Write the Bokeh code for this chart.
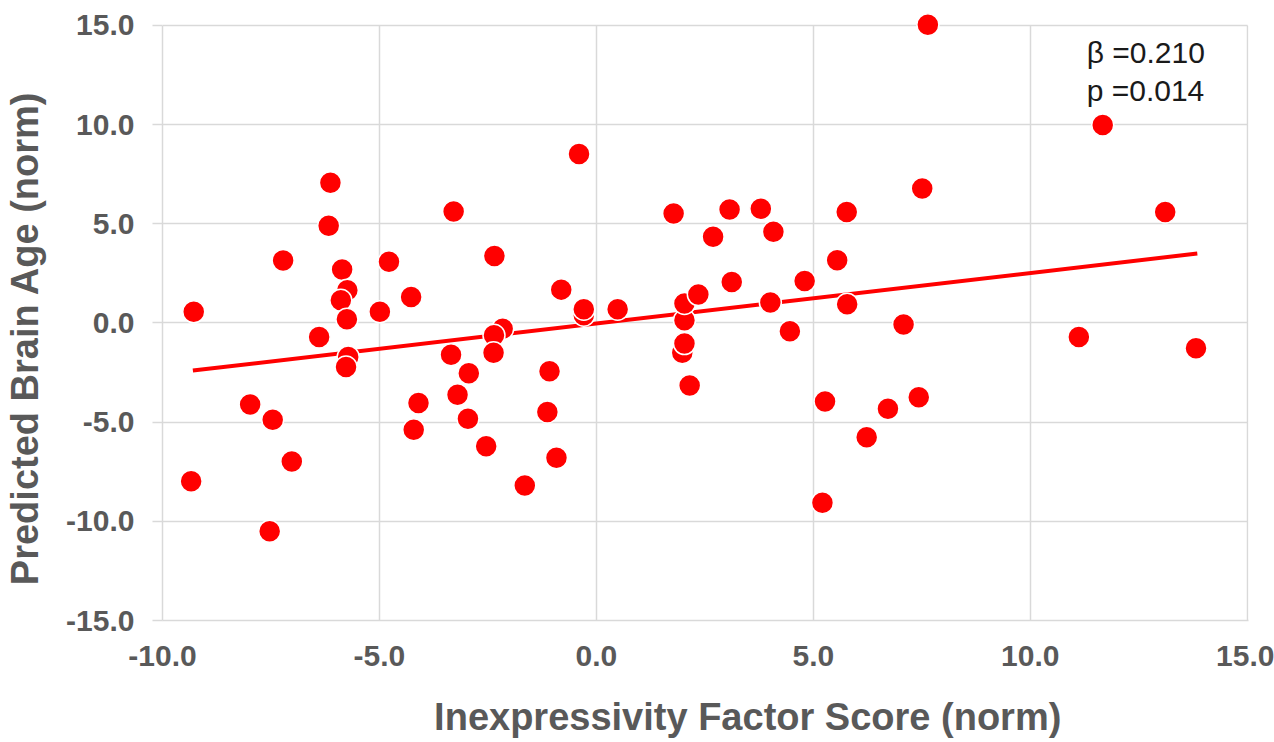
from bokeh.plotting import figure
from bokeh.models import Range1d, Label, FixedTicker, NumeralTickFormatter
from bokeh.embed import file_html
from bokeh.resources import INLINE

# Data
x_score = [-9.28, -9.34, -7.98, -7.46, -7.02, -7.53, -7.22, -6.39, -6.13, -6.17,
           -5.86, -5.74, -5.89, -5.75, -5.72, -5.77, -4.99, -4.78, -4.27, -4.10,
           -4.21, -3.29, -3.35, -3.20, -2.94, -2.96, -2.54, -2.35, -2.16, -2.36,
           -2.37, -1.08, -1.13, -0.92, -1.65, -0.81, -0.40, -0.29, -0.29, 0.49,
           1.78, 1.98, 2.03, 2.03, 2.03, 2.35, 2.15, 2.69, 3.07, 3.12,
           3.79, 4.08, 4.01, 4.46, 4.80, 5.27, 5.21, 5.55, 5.77, 5.78,
           6.23, 6.72, 7.08, 7.43, 7.51, 7.64, 11.12, 11.67, 13.11, 13.82]
y_age = [0.56, -7.98, -4.11, -4.88, -6.99, -10.50, 3.15, -0.71, 7.07, 4.90,
         2.69, 1.65, 1.14, 0.19, -1.72, -2.22, 0.56, 3.08, 1.31, -4.04,
         -5.39, 5.62, -1.60, -3.62, -2.53, -4.83, -6.21, 3.37, -0.29, -0.62,
         -1.50, -2.44, -4.49, -6.80, -8.20, 1.68, 8.52, 0.39, 0.69, 0.69,
         5.52, -1.50, -1.04, 0.13, 0.98, 1.43, -3.15, 4.34, 5.72, 2.07,
         5.76, 4.60, 1.03, -0.42, 2.12, -3.96, -9.06, 3.16, 5.59, 0.94,
         -5.76, -4.33, -0.08, -3.74, 6.78, 15.03, -0.71, 9.98, 5.59, -1.28]
trend_x = [-9.30, 13.85]
trend_y = [-2.40, 3.50]
x_ticks = [-10, -5, 0, 5, 10, 15]
y_ticks = [-15, -10, -5, 0, 5, 10, 15]
stats_lines = ["\u03b2 =0.210", "p =0.014"]
x_title = "Inexpressivity Factor Score (norm)"
y_title = "Predicted Brain Age (norm)"

GRAY = "#595959"
GRID = "#d9d9d9"
NBSP = "\u00a0"

p = figure(width=1274, height=742, output_backend="svg", toolbar_location=None,
           x_range=Range1d(-10, 15.03), y_range=Range1d(-15, 15.6),
           min_border_left=162, min_border_right=26, min_border_top=13,
           min_border_bottom=122)
p.outline_line_color = None
p.background_fill_color = "white"

# grid
for g in (p.xgrid[0], p.ygrid[0]):
    g.grid_line_color = GRID
    g.grid_line_width = 1.5
p.xgrid[0].ticker = FixedTicker(ticks=x_ticks)
p.ygrid[0].ticker = FixedTicker(ticks=y_ticks)
if "cross_bounds" in p.xgrid[0].properties():
    p.xgrid[0].cross_bounds = (-15, 15)
    p.ygrid[0].cross_bounds = (-10, 15)

# axes
xa = p.xaxis[0]
ya = p.yaxis[0]
xa.ticker = FixedTicker(ticks=x_ticks)
ya.ticker = FixedTicker(ticks=y_ticks)
xa.formatter = NumeralTickFormatter(format="0.0")
ya.formatter = NumeralTickFormatter(format="0.0")
ya.bounds = (-15, 15)
for a in (xa, ya):
    a.axis_line_color = GRID
    a.axis_line_width = 1.5
    a.minor_tick_line_color = None
    a.major_tick_in = 0
    a.major_label_text_font = "Liberation Sans"
    a.major_label_text_font_style = "bold"
    a.major_label_text_font_size = "30px"
    a.major_label_text_color = GRAY
    a.axis_label_text_font = "Liberation Sans"
    a.axis_label_text_font_style = "bold"
    a.axis_label_text_font_size = "38px"
    a.axis_label_text_color = GRAY
ya.major_tick_out = 10
ya.major_tick_line_color = GRID
ya.major_tick_line_width = 1.5
ya.major_label_standoff = 18
xa.major_tick_out = 0
xa.major_tick_line_color = None
xa.major_label_standoff = 25

# axis titles; non-breaking spaces nudge them off-centre as in the reference
xa.axis_label = NBSP * 8 + x_title
ya.axis_label = y_title + NBSP * 4
xa.axis_label_standoff = 27
ya.axis_label_standoff = 17

# trend line and points
p.line(trend_x, trend_y, line_color="#ff0000", line_width=4)
p.scatter(x_score, y_age, marker="circle", size=22, fill_color="#ff0000",
          line_color="white", line_width=1.5)

# stats text
for i, t in enumerate(stats_lines):
    p.add_layout(Label(x=11.3, y=13.64 - 1.92 * i, text=t, text_baseline="middle",
                       text_align="left", text_font="Liberation Sans",
                       text_font_size="30px", text_color="#1a1a1a"))

open("out.html", "w").write(file_html(p, INLINE))
